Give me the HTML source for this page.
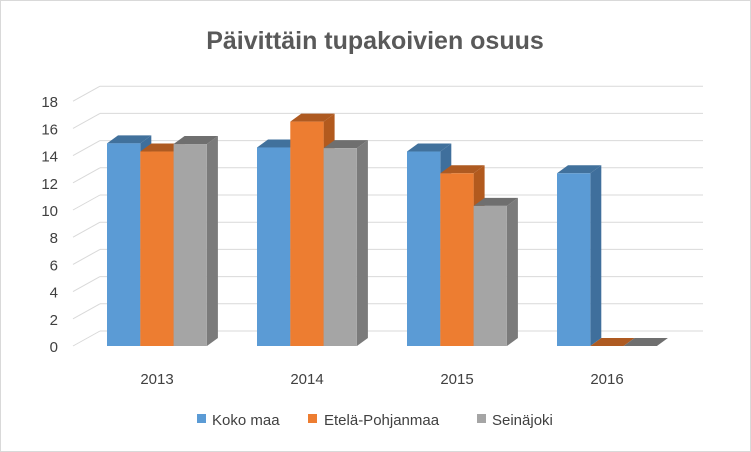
<!DOCTYPE html>
<html><head><meta charset="utf-8"><style>
body{margin:0;background:#fff}
svg{display:block;font-family:"Liberation Sans",sans-serif}
</style></head><body>
<svg id="chart" width="751" height="452" viewBox="0 0 751 452">
<rect x="0.5" y="0.5" width="750" height="451" fill="#fff" stroke="#d9d9d9"/>
<text x="375" y="49" text-anchor="middle" font-size="25" font-weight="bold" fill="#595959">Päivittäin tupakoivien osuus</text>
<g id="grid"></g><g id="bars"></g><g id="labels"></g>
<g>
<rect x="197" y="414" width="9" height="9" fill="#5b9bd5"/>
<text x="212" y="425" font-size="15" fill="#404040">Koko maa</text>
<rect x="308" y="414" width="9" height="9" fill="#ed7d31"/>
<text x="324" y="425" font-size="15" fill="#404040">Etelä-Pohjanmaa</text>
<rect x="477" y="414" width="9" height="9" fill="#a5a5a5"/>
<text x="492" y="425" font-size="15" fill="#404040">Seinäjoki</text>
</g>
</svg>
<script>
const categories = ["2013","2014","2015","2016"];
const kokoMaa = [14.9, 14.6, 14.3, 12.7];
const etelaPohjanmaa = [14.3, 16.5, 12.7, 0];
const seinajoki = [14.85, 14.55, 10.3, 0];
const yTicks = [0,2,4,6,8,10,12,14,16,18];

const NS="http://www.w3.org/2000/svg";
const unit=13.6, frontY0=346, backY0=331;
const yFront=v=>frontY0-v*unit, yBack=v=>backY0-v*unit;
const groupX=i=>107+i*150, barW=33.3, dx=11, dy=-8;
function mk(tag,attrs,parent){const e=document.createElementNS(NS,tag);for(const k in attrs)e.setAttribute(k,attrs[k]);parent.appendChild(e);return e;}
const grid=document.getElementById('grid'), bars=document.getElementById('bars'), labels=document.getElementById('labels');
yTicks.forEach(t=>{
  const l=mk('line',{x1:100,x2:703,y1:yBack(t),y2:yBack(t),stroke:'#d9d9d9','stroke-width':1},grid);
  
  
  const d=mk('line',{x1:73,y1:yFront(t),x2:100,y2:yBack(t),stroke:'#d9d9d9','stroke-width':1},grid);
  
  
  const tx=mk('text',{x:58,y:yFront(t)+6,'text-anchor':'end','font-size':15,fill:'#404040'},labels);
  tx.textContent=t;
  
  
});
const series=[[kokoMaa,'#5b9bd5','#41719c','#3f6f9c','koko-maa'],[etelaPohjanmaa,'#ed7d31','#ae5a21','#b25a1e','etela-pohjanmaa'],[seinajoki,'#a5a5a5','#6f6f6f','#7b7b7b','seinajoki']];
categories.forEach((c,i)=>{
  series.forEach((s,j)=>{
    const v=s[0][i], x=groupX(i)+j*barW, yt=yFront(v), yb=frontY0;
    const g=mk('g',{},bars);
    
    
    mk('polygon',{points:`${x+barW},${yt} ${x+barW+dx},${yt+dy} ${x+barW+dx},${yb+dy} ${x+barW},${yb}`,fill:s[3]},g);
    mk('polygon',{points:`${x},${yt} ${x+dx},${yt+dy} ${x+barW+dx},${yt+dy} ${x+barW},${yt}`,fill:s[2]},g);
    if(v>0) mk('rect',{x:x,y:yt,width:barW,height:yb-yt,fill:s[1]},g);
  });
  const tx=mk('text',{x:groupX(i)+50,y:384,'text-anchor':'middle','font-size':15,fill:'#404040'},labels);
  tx.textContent=c;
  
  
});
</script>
</body></html>
